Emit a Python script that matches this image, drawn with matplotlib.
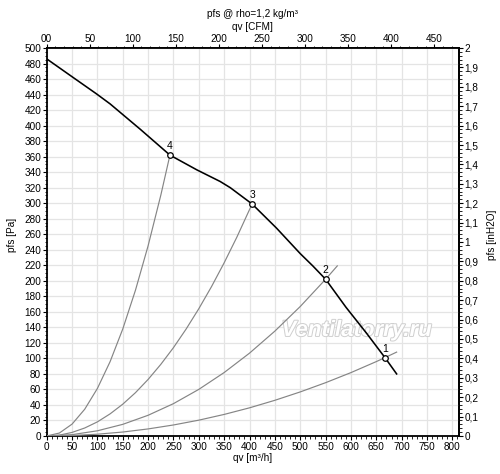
import matplotlib
matplotlib.use("Agg")
import matplotlib.pyplot as plt
import matplotlib.patheffects as pe
from matplotlib.ticker import MultipleLocator, FixedLocator

plt.rcParams['font.family'] = ['Liberation Sans', 'DejaVu Sans']

# fan curve, qv [m3/h] vs pfs [Pa]
fan_qv = [0, 50, 98, 125, 185, 243, 296, 342, 362, 405, 453, 500, 525, 550, 590, 630, 667, 690]
fan_pfs = [486, 463, 441, 428, 395, 362, 343, 328, 320, 299, 268, 235, 219, 202, 166, 133, 101, 80]

# operating points
pt_qv = [667, 550, 405, 243]
pt_pfs = [101, 202, 299, 362]
pt_labels = ['1', '2', '3', '4']

# system curves
sys1_qv = [0, 50, 100, 150, 200, 250, 300, 350, 400, 450, 500, 550, 600, 650, 667, 690]
sys1_pfs = [0, 0.6, 2.3, 5.1, 9.1, 14.2, 20.4, 27.8, 36.3, 46.0, 56.8, 68.7, 81.7, 95.9, 101, 108.1]
sys2_qv = [0, 50, 100, 150, 200, 250, 300, 350, 400, 450, 500, 550, 573]
sys2_pfs = [0, 1.7, 6.7, 15.0, 26.7, 41.7, 60.1, 81.8, 106.8, 135.2, 166.9, 202, 219.2]
sys3_qv = [0, 25, 50, 75, 100, 125, 150, 175, 200, 225, 250, 275, 300, 325, 350, 375, 405]
sys3_pfs = [0, 1.1, 4.6, 10.3, 18.2, 28.5, 41.0, 55.8, 72.9, 92.3, 113.9, 137.9, 164.1, 192.5, 223.3, 256.3, 299]
sys4_qv = [0, 25, 50, 75, 100, 125, 150, 175, 200, 225, 243]
sys4_pfs = [0, 3.8, 15.3, 34.5, 61.3, 95.8, 137.9, 187.8, 245.2, 310.3, 362]

cfm_ticks = [0, 50, 100, 150, 200, 250, 300, 350, 400, 450]
cfm_labels = ['00', '50', '100', '150', '200', '250', '300', '350', '400', '450']
inh2o_ticks = [i / 10 for i in range(21)]
inh2o_labels = [('%.1f' % v).replace('.', ',').replace(',0', '') for v in inh2o_ticks]

fs = 7.2
fig = plt.figure(figsize=(5, 4.74), dpi=100)
ax = fig.add_axes([0.0934, 0.0802, 0.8246, 0.8185])

ax.set_xlim(0, 813)
ax.set_ylim(0, 500)

for q, p in [(sys1_qv, sys1_pfs), (sys2_qv, sys2_pfs), (sys3_qv, sys3_pfs), (sys4_qv, sys4_pfs)]:
    ax.plot(q, p, color='#858585', lw=0.85, zorder=3)

ax.plot(fan_qv, fan_pfs, color='black', lw=1.15, zorder=4)
ax.plot(pt_qv, pt_pfs, 'o', ms=4, mfc='white', mec='black', mew=0.9, zorder=5)
for q, p, t in zip(pt_qv, pt_pfs, pt_labels):
    ax.text(q, p + 5, t, ha='center', va='bottom', fontsize=7.5, zorder=6)

# watermark
ax.text(611, 136, 'Ventilatorry.ru', fontsize=16, style='italic', fontweight='bold',
        color='white', ha='center', va='center', zorder=2,
        path_effects=[pe.withStroke(linewidth=1.4, foreground='#cfcfcf')])

ax.xaxis.set_major_locator(MultipleLocator(50))
ax.xaxis.set_minor_locator(MultipleLocator(10))
ax.yaxis.set_major_locator(MultipleLocator(20))
ax.yaxis.set_minor_locator(MultipleLocator(5))
ax.grid(True, which='major', color='#e4e4e4', lw=0.9, zorder=0)
ax.tick_params(which='major', length=3, width=0.8, labelsize=fs, pad=1)
ax.tick_params(which='minor', length=1.8, width=0.6)
for s in ax.spines.values():
    s.set_linewidth(1.3)

top = ax.secondary_xaxis('top', functions=(lambda q: q / 1.699, lambda c: c * 1.699))
top.xaxis.set_major_locator(FixedLocator(cfm_ticks))
top.set_xticklabels(cfm_labels)
top.xaxis.set_minor_locator(MultipleLocator(10))
top.tick_params(which='major', length=3, width=0.8, labelsize=fs, pad=0)
top.tick_params(which='minor', length=1.8, width=0.6)
top.spines['top'].set_linewidth(1.3)

right = ax.secondary_yaxis('right', functions=(lambda p: p / 250, lambda v: v * 250))
right.yaxis.set_major_locator(FixedLocator(inh2o_ticks))
right.set_yticklabels(inh2o_labels)
right.yaxis.set_minor_locator(MultipleLocator(0.02))
right.tick_params(which='major', length=3, width=0.8, labelsize=fs, pad=1)
right.tick_params(which='minor', length=1.8, width=0.6)
right.spines['right'].set_linewidth(1.3)

fig.text(0.505, 1 - 14 / 474, 'pfs @ rho=1,2 kg/m³', ha='center', va='center', fontsize=fs)
fig.text(0.505, 1 - 27 / 474, 'qv [CFM]', ha='center', va='center', fontsize=fs)
fig.text(0.505, 1 - 458 / 474, 'qv [m³/h]', ha='center', va='center', fontsize=fs)
fig.text(12 / 500, 1 - 235 / 474, 'pfs [Pa]', ha='center', va='center', rotation=90, fontsize=fs)
fig.text(492 / 500, 1 - 235 / 474, 'pfs [inH2O]', ha='center', va='center', rotation=90, fontsize=fs)

fig.savefig('out.png', dpi=100)
